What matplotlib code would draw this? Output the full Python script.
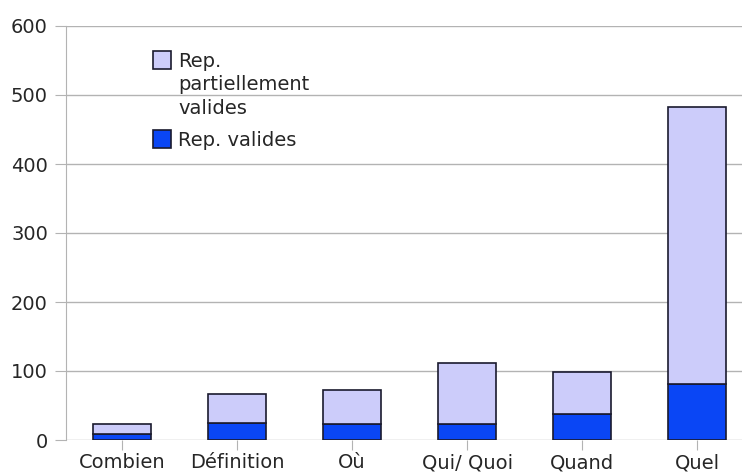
import matplotlib
matplotlib.use("Agg")
import matplotlib.pyplot as plt
from matplotlib.patches import Rectangle

categories = ["Combien", "Définition", "Où", "Qui/ Quoi", "Quand", "Quel"]
valides = [8, 25, 23, 23, 38, 81]
partiellement = [15, 41, 49, 88, 60, 402]
yticks = [0, 100, 200, 300, 400, 500, 600]

light = "#ccccfa"
blue = "#0a46f5"
edge = "#1a1a2e"
txt = "#262626"
grid = "#b3b3b3"

plt.rcParams['font.family'] = ['DejaVu Sans']

fig = plt.figure(figsize=(7.42, 4.75), dpi=100)
ax = fig.add_axes([66/742, 35/475, 1 - 66/742, (440-26)/475])

x = list(range(len(categories)))
ax.bar(x, valides, width=0.5, color=blue, edgecolor=edge, linewidth=1.2, zorder=3)
ax.bar(x, partiellement, bottom=valides, width=0.5, color=light, edgecolor=edge, linewidth=1.2, zorder=3)

ax.set_xlim(-0.487, 5.39)
ax.set_ylim(0, 600)
ax.set_yticks(yticks)
ax.set_yticklabels([str(v) for v in yticks], fontsize=14, color=txt)
ax.set_xticks(x)
ax.set_xticklabels(categories, fontsize=14, color=txt)
ax.yaxis.grid(True, color=grid, linewidth=1, zorder=0)
ax.set_axisbelow(True)
for s in ["top", "right", "bottom"]:
    ax.spines[s].set_visible(False)
ax.spines["left"].set_color(grid)
ax.tick_params(axis="y", length=8, color=grid, pad=5)
ax.tick_params(axis="x", length=7, color=grid, pad=2.5)

# manual legend
def px2ax(px, py):
    return ((px - 66) / 676, (440 - py) / 414)

for (py, col, label) in [(51, light, "Rep.\npartiellement\nvalides"), (130, blue, "Rep. valides")]:
    ax0, ay0 = px2ax(153, py + 18)
    ax.add_patch(Rectangle((ax0, ay0), 18/676, 18/414, transform=ax.transAxes,
                           facecolor=col, edgecolor=edge, linewidth=1.2, clip_on=False, zorder=5))
    tx, ty = px2ax(178, py + 1)
    ax.text(tx, ty, label, transform=ax.transAxes, fontsize=14, color=txt,
            va="top", ha="left", linespacing=1.3, zorder=5)

fig.savefig("out.png", dpi=100)
